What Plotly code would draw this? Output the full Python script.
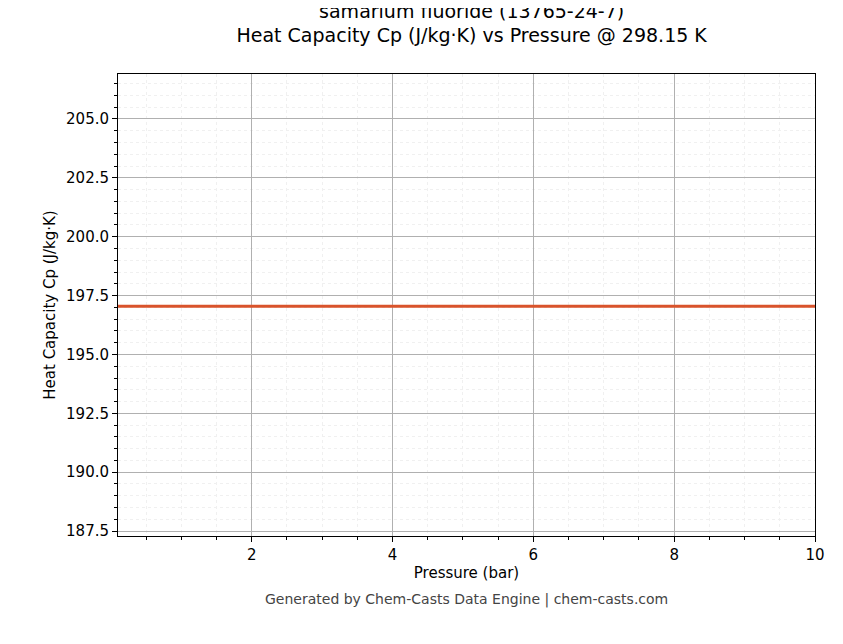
import plotly.graph_objects as go

pressure = [0.1, 1, 2, 3, 4, 5, 6, 7, 8, 9, 10]
cp = [197.05, 197.05, 197.05, 197.05, 197.05, 197.05, 197.05, 197.05, 197.05, 197.05, 197.05]

fig = go.Figure()
fig.add_trace(go.Scatter(x=pressure, y=cp, mode='lines',
                         line=dict(color='#d9532b', width=3)))

axis_common = dict(
    showline=True, linecolor='black', linewidth=1, mirror=True,
    ticks='outside', ticklen=5, tickcolor='black',
    showgrid=True, gridcolor='#b0b0b0', gridwidth=0.8,
    zeroline=False, tickfont=dict(size=15, color='black'),
)
minor_common = dict(ticks='outside', ticklen=3, tickcolor='black',
                    showgrid=True, gridcolor='#f0f0f0', griddash='dot', gridwidth=0.5)

fig.update_xaxes(range=[0.1, 10], dtick=2, tick0=0,
                 minor=dict(dtick=0.5, **minor_common),
                 title=dict(text='Pressure (bar)', font=dict(size=15, color='black'), standoff=4),
                 **axis_common)
fig.update_yaxes(range=[187.29, 206.91], dtick=2.5, tick0=187.5, tickformat='.1f',
                 minor=dict(dtick=0.5, **minor_common),
                 title=dict(text='Heat Capacity Cp (J/kg·K)', font=dict(size=15, color='black'), standoff=6),
                 **axis_common)

fig.update_layout(
    width=843, height=644,
    margin=dict(l=110, r=36, t=66, b=116),
    plot_bgcolor='white', paper_bgcolor='white',
    font=dict(family='DejaVu Sans', color='black'),
    showlegend=False,
    title=dict(text='samarium fluoride (13765-24-7)<br>Heat Capacity Cp (J/kg·K) vs Pressure @ 298.15 K',
               x=0.55, xanchor='center', y=0.985, yanchor='top', font=dict(size=19, color='black')),
)
fig.add_annotation(text='Generated by Chem-Casts Data Engine | chem-casts.com',
                   xref='paper', yref='paper', x=0.5, y=-0.16, showarrow=False,
                   font=dict(size=14, color='#444444'))

fig.write_html("out.html")
